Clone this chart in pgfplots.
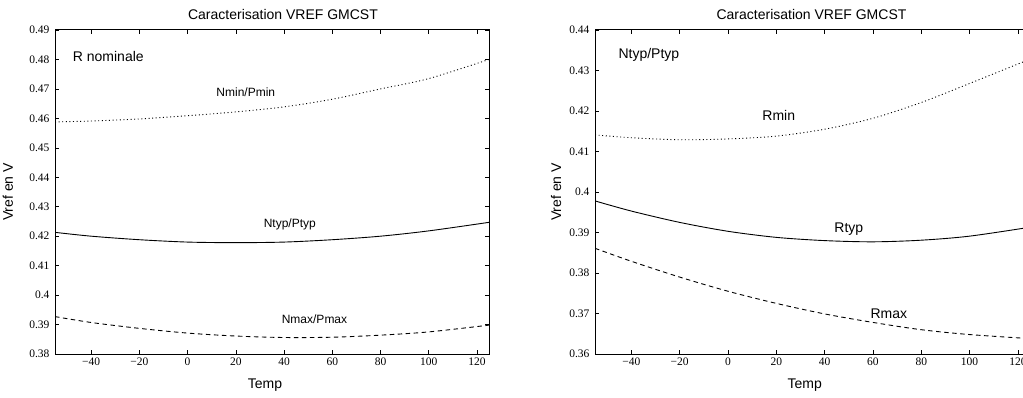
\documentclass[border=0pt]{standalone}
\usepackage{fontspec}
\setmainfont{Liberation Serif}
\newfontfamily\sansf{Liberation Sans}
\usepackage{pgfplots}
\pgfplotsset{compat=1.18}

\pgfplotsset{
  gp/.style={
    anchor=south west, scale only axis,
    xmin=-55, xmax=125,
    xtick={-40,-20,0,20,40,60,80,100,120},
    xticklabels={−40,−20,0,20,40,60,80,100,120},
    tick align=inside, major tick length=4pt,
    axis line style={line width=1pt},
    every tick/.style={black, line width=0.6pt},
    ticklabel style={font=\fontsize{11.5}{12}\selectfont},
    yticklabel style={xshift=-2pt},
    clip=true,
  },
  dotc/.style={black, line width=0.9pt, smooth, dash pattern=on 1pt off 2.6pt},
  solc/.style={black, line width=0.9pt, smooth},
  dasc/.style={black, line width=0.9pt, smooth, dash pattern=on 4.5pt off 3.5pt},
}

\begin{document}
\begin{tikzpicture}[x=1pt,y=1pt]
% ---------------- Left panel ----------------
\begin{axis}[gp, at={(55pt,43pt)}, width=434pt, height=324pt,
  ymin=0.38, ymax=0.49,
  ytick={0.38,0.39,0.40,0.41,0.42,0.43,0.44,0.45,0.46,0.47,0.48,0.49},
  yticklabels={0.38,0.39,0.4,0.41,0.42,0.43,0.44,0.45,0.46,0.47,0.48,0.49}]
\addplot[dotc] coordinates {(-55,0.4588) (-40,0.4591) (-20,0.4598) (0,0.4609) (20,0.4622) (40,0.4639) (60,0.4665) (80,0.4700) (100,0.4735) (125,0.4800)};
\addplot[solc] coordinates {(-55,0.4213) (-40,0.4200) (-20,0.4188) (0,0.4180) (20,0.4178) (40,0.4180) (60,0.4188) (80,0.4200) (100,0.4218) (125,0.4247)};
\addplot[dasc] coordinates {(-55,0.3927) (-40,0.3907) (-20,0.3887) (0,0.3871) (20,0.3861) (40,0.3856) (60,0.3857) (80,0.3864) (100,0.3875) (125,0.3898)};
\end{axis}
% ---------------- Right panel ----------------
\begin{axis}[gp, at={(595pt,43pt)}, width=435pt, height=324pt,
  ymin=0.36, ymax=0.44,
  ytick={0.36,0.37,0.38,0.39,0.40,0.41,0.42,0.43,0.44},
  yticklabels={0.36,0.37,0.38,0.39,0.4,0.41,0.42,0.43,0.44}]
\addplot[dotc] coordinates {(-55,0.4141) (-40,0.4134) (-20,0.4129) (0,0.4131) (20,0.4138) (40,0.4155) (60,0.4182) (80,0.4221) (100,0.4268) (125,0.4328)};
\addplot[solc] coordinates {(-55,0.3978) (-40,0.3953) (-20,0.3925) (0,0.3903) (20,0.3888) (40,0.3880) (60,0.3877) (80,0.3881) (100,0.3891) (125,0.3913)};
\addplot[dasc] coordinates {(-55,0.3861) (-40,0.3829) (-20,0.3790) (0,0.3755) (20,0.3725) (40,0.3699) (60,0.3678) (80,0.3660) (100,0.3648) (125,0.3638)};
\end{axis}
% ---------------- Texts ----------------
\begin{scope}[every node/.style={inner sep=0pt, font=\sansf\fontsize{14}{16}\selectfont}]
\node at (283,383) {Caracterisation VREF GMCST};
\node at (811.5,383) {Caracterisation VREF GMCST};
\node at (265,12) {Temp};
\node at (804.7,12) {Temp};
\node[rotate=90] at (8,205) {Vref en V};
\node[rotate=90] at (556,205) {Vref en V};
\node[anchor=west] at (72.7,341) {R nominale};
\node[anchor=west] at (618.3,342) {Ntyp/Ptyp};
\node at (778.8,281.3) {Rmin};
\node at (848.8,167.7) {Rtyp};
\node at (888.8,83.7) {Rmax};
\end{scope}
\begin{scope}[every node/.style={inner sep=0pt, font=\sansf\fontsize{12}{14}\selectfont}]
\node at (245.8,304.3) {Nmin/Pmin};
\node at (289.8,173) {Ntyp/Ptyp};
\node at (314.5,77.7) {Nmax/Pmax};
\end{scope}
\pgfresetboundingbox
\useasboundingbox (0,0) rectangle (1023,397);
\end{tikzpicture}
\end{document}
